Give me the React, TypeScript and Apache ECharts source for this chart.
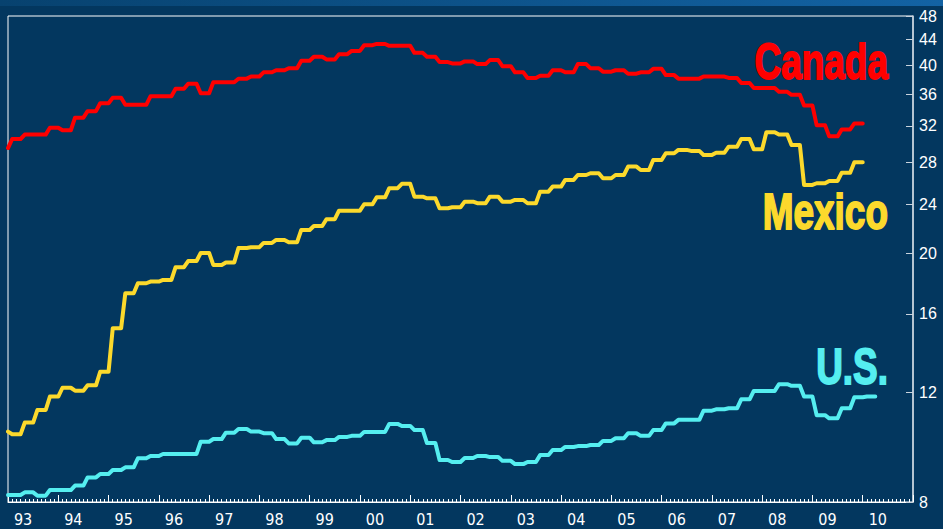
import React, { useEffect, useRef } from "react";
import * as echarts from "echarts";

// Tick labels
const yearLabels = ["93","94","95","96","97","98","99","00","01","02","03","04","05","06","07","08","09","10"];
const yTicks = [8, 12, 16, 20, 24, 28, 32, 36, 40, 44, 48];

// Quarterly values, 1993Q1 onward (Dec-1992 starting value given separately)
const seriesNames = ["Canada", "Mexico", "U.S."];
const startValues = [29.5, 10.37, 8.21];

const canada = [
  30.5, 31.0, 31.0, 31.8,
  31.5, 33.0, 33.8, 34.8,
  35.5, 34.6, 34.6, 35.7,
  35.7, 36.7, 37.4, 36.1,
  37.6, 37.6, 38.1, 38.4,
  39.0, 39.3, 39.6, 40.7,
  41.3, 40.9, 41.7, 42.2,
  43.1, 43.3, 43.0, 43.0,
  41.9, 41.3, 40.5, 40.3,
  40.6, 40.2, 40.8, 39.9,
  39.0, 38.2, 38.5, 39.3,
  39.0, 40.2, 39.6, 39.1,
  39.3, 38.8, 39.0, 39.5,
  38.6, 38.1, 38.1, 38.4,
  38.4, 38.2, 37.5, 36.8,
  36.8, 36.3, 35.9, 34.5,
  32.1, 30.8, 31.6, 32.3,
];

const mexico = [
  10.27, 10.72, 11.23, 11.80,
  12.19, 12.06, 12.30, 12.93,
  15.18, 17.27, 17.92, 18.03,
  18.14, 19.01, 19.45, 20.04,
  19.17, 19.35, 20.41, 20.47,
  20.79, 21.02, 20.85, 21.81,
  22.13, 22.69, 23.42, 23.42,
  23.98, 24.60, 25.44, 25.85,
  24.66, 24.51, 23.63, 23.71,
  24.21, 24.07, 24.66, 24.21,
  24.36, 24.07, 25.12, 25.59,
  26.23, 26.71, 26.88, 26.39,
  26.71, 27.55, 27.21, 28.23,
  28.94, 29.30, 29.19, 28.76,
  29.00, 29.65, 30.50, 29.37,
  31.27, 31.00, 29.84, 25.75,
  25.91, 26.13, 26.94, 27.99,
];

const us = [
  8.21, 8.29, 8.19, 8.36,
  8.36, 8.50, 8.76, 8.87,
  9.00, 9.09, 9.40, 9.48,
  9.55, 9.55, 9.55, 9.99,
  10.09, 10.33, 10.47, 10.37,
  10.31, 10.09, 9.93, 10.14,
  9.97, 10.05, 10.17, 10.21,
  10.36, 10.36, 10.67, 10.59,
  10.43, 9.94, 9.34, 9.27,
  9.41, 9.48, 9.44, 9.31,
  9.20, 9.27, 9.51, 9.69,
  9.80, 9.83, 9.87, 10.02,
  10.12, 10.31, 10.21, 10.43,
  10.69, 10.83, 10.83, 11.20,
  11.26, 11.30, 11.68, 12.05,
  12.05, 12.35, 12.28, 11.80,
  11.02, 10.89, 11.30, 11.77,
  11.80,
];

const colors = ["#ff0000", "#fcd92c", "#55eef0"];

function toMonthly(start: number, quarterly: number[]): [number, number][] {
  const pts: [number, number][] = [[1993, start]];
  quarterly.forEach((v, q) => {
    for (let m = 0; m < 3; m++) pts.push([1993 + (3 * q + m + 1) / 12, v]);
  });
  return pts;
}

export default function App() {
  const ref = useRef<HTMLDivElement>(null);
  useEffect(() => {
    if (!ref.current) return;
    const chart = echarts.init(ref.current, null, { renderer: "svg" });
    const all = [canada, mexico, us];
    const bigFont = "bold 44px 'Liberation Sans', Arial, sans-serif";
    const makeLabel = (text: string, color: string, y: number) => ({
      type: "text",
      x: 888, y,
      scaleX: 0.84, scaleY: 1.12,
      style: {
        text, fill: color, stroke: color, lineWidth: 1.6,
        align: "right", verticalAlign: "middle", font: bigFont,
      },
    });
    chart.setOption({
      animation: false,
      backgroundColor: "#03375f",
      grid: {
        left: 8, right: 30, top: 16, bottom: 27,
        show: true, borderColor: "#ffffff", borderWidth: 1,
        backgroundColor: "transparent",
      },
      xAxis: {
        type: "value",
        min: 1993, max: 2011, interval: 1,
        axisLine: { show: true, lineStyle: { color: "#ffffff", width: 1 } },
        axisTick: { show: true, inside: true, length: 7, lineStyle: { color: "#ffffff" } },
        minorTick: { show: true, splitNumber: 12, length: 3, lineStyle: { color: "#ffffff" } },
        splitLine: { show: false },
        minorSplitLine: { show: false },
        axisLabel: {
          customValues: yearLabels.map((_, i) => 1993.3 + i),
          formatter: (v: number) => yearLabels[Math.round(v - 1993.3)] ?? "",
          color: "#ffffff",
          fontSize: 16,
          fontFamily: "'DejaVu Sans Condensed', 'Liberation Sans Narrow', 'Liberation Sans', sans-serif",
          margin: 9,
        },
      },
      yAxis: {
        type: "log",
        logBase: 10,
        min: 8, max: 48,
        position: "right",
        axisLine: { show: true, lineStyle: { color: "#c9d3de", width: 1.5 } },
        axisTick: { show: true, inside: true, length: 7, customValues: yTicks, lineStyle: { color: "#c9d3de" } },
        minorTick: { show: false },
        splitLine: { show: false },
        axisLabel: {
          customValues: yTicks,
          color: "#ffffff",
          fontSize: 16,
          fontFamily: "'Liberation Sans', Arial, sans-serif",
          margin: 6,
        },
      },
      series: all.map((arr, i) => ({
        type: "line",
        name: seriesNames[i],
        data: toMonthly(startValues[i], arr),
        showSymbol: false,
        symbol: "none",
        lineStyle: { color: colors[i], width: 4, join: "round", cap: "round" },
        z: 3 + i,
      })),
      graphic: [
        {
          type: "rect",
          shape: { x: 0, y: 0, width: 943, height: 6 },
          style: {
            fill: new echarts.graphic.LinearGradient(0, 0, 1, 0, [
              { offset: 0, color: "#07426f" },
              { offset: 1, color: "#1363a4" },
            ]),
          },
          silent: true,
        },
        makeLabel(seriesNames[0], colors[0], 62),
        makeLabel(seriesNames[1], colors[1], 212),
        makeLabel(seriesNames[2], colors[2], 367),
      ],
    });
    return () => chart.dispose();
  }, []);
  return (
    <div
      ref={ref}
      style={{ position: "fixed", left: 0, top: 0, width: 943, height: 529 }}
    />
  );
}
